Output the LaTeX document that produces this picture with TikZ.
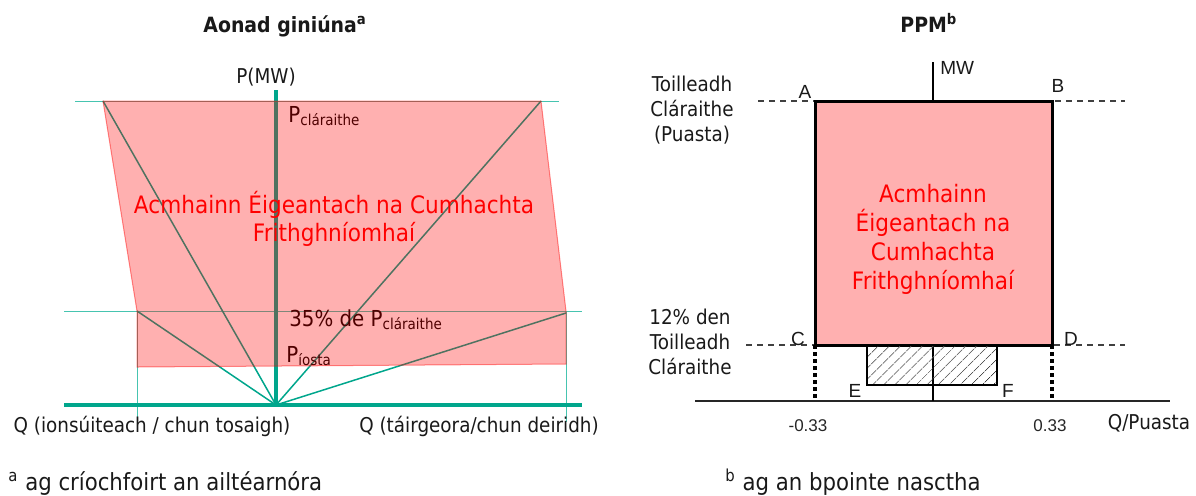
\documentclass[tikz,border=0pt]{standalone}
\usepackage{fontspec}
\setmainfont{DejaVu Sans}[FakeStretch=0.9]
\newfontfamily\arialf{Liberation Sans}
\usetikzlibrary{patterns.meta}
\definecolor{tealx}{RGB}{0,166,140}
\definecolor{tealthin}{RGB}{70,196,176}
\definecolor{pinkx}{RGB}{255,176,176}
\definecolor{redx}{RGB}{255,0,0}
\definecolor{txt}{RGB}{25,25,25}
\newcommand\fsz[2]{\fontsize{#1pt}{#2pt}\selectfont}
\newcommand\Psub[2]{#1\raisebox{-1.5pt}{\fsz{7.5}{9}#2}}
\begin{document}
\begin{tikzpicture}[x=0.5pt,y=-0.5pt,
  every node/.style={inner sep=0pt,text=txt},
  thinteal/.style={draw=tealthin,line width=0.5pt},
  ray/.style={draw=tealx,line width=0.75pt},
  axisteal/.style={draw=tealx,line width=2pt},
  pinkzone/.style={fill=red,fill opacity=0.31,draw=red,draw opacity=0.45,line width=0.5pt},
  lbl/.style={font=\fsz{10.2}{12.5}},
  plbl/.style={font=\fsz{11}{13},text=black,anchor=base west},
  title/.style={font=\bfseries\fsz{10.5}{12},anchor=base west},
  redtxt/.style={text=redx,align=center},
  dashl/.style={draw=black!75,line width=0.6pt,dash pattern=on 3pt off 2.5pt},
  dotl/.style={draw=black,line width=1.6pt,dash pattern=on 2pt off 1.5pt},
  boxline/.style={draw=black,line width=1.5pt},
  letter/.style={font=\arialf\fsz{9.5}{10},text=black!90},
  small/.style={font=\arialf\fsz{8.5}{9},text=black!85}]
\useasboundingbox (0,0) rectangle (1196,495);

% ---------------- left diagram ----------------
\node[title] (t1) at (203,32) {Aonad giniúna\textsuperscript{a}};
\coordinate (O) at (276,405);
\coordinate (TL) at (103,101);
\coordinate (TR) at (541,101);
\coordinate (ML) at (137,311);
\coordinate (MR) at (566,313);
\coordinate (Ytop) at (276,90);
\coordinate (Xl) at (64,405);
\coordinate (Xr) at (582,405);
\coordinate (h1a) at (75,101);  \coordinate (h1b) at (559,101);
\coordinate (h2a) at (64,311);  \coordinate (h2b) at (582,311);
\coordinate (v1a) at (137,311); \coordinate (v1b) at (137,420);
\coordinate (v2a) at (566,311); \coordinate (v2b) at (566,422);

\draw[thinteal] (h1a) -- (h1b);
\draw[thinteal] (h2a) -- (h2b);
\draw[thinteal] (v1a) -- (v1b);
\draw[thinteal] (v2a) -- (v2b);
\draw[ray] (O) -- (TL);
\draw[ray] (O) -- (TR);
\draw[ray] (O) -- (ML);
\draw[ray] (O) -- (MR);
\draw[axisteal] (Ytop) -- (O);
\draw[axisteal] (Xl) -- (Xr);

\node[plbl] (pcl) at (288,122) {\Psub{P}{cláraithe}};
\node[plbl] (p35) at (289,326) {\Psub{35\% de P}{cláraithe}};
\node[plbl] (pio) at (286,362) {\Psub{P}{íosta}};

\fill[pinkzone] (TL) -- (TR) -- (566,311) -- (566,364) -- (137,367) -- (ML) -- cycle;

\node[redtxt,font=\fsz{12}{14}] (rl) at (334,219) {Acmhainn Éigeantach na Cumhachta\\Frithghníomhaí};
\node[lbl] (pmw) at (266,77) {P(MW)};
\node[lbl,anchor=base] (ql) at (152,432) {Q (ionsúiteach / chun tosaigh)};
\node[lbl,anchor=base] (qr) at (479,432) {Q (táirgeora/chun deiridh)};

% ---------------- right diagram ----------------
\node[title] (t2) at (900,32) {PPM\textsuperscript{b}};
\coordinate (A) at (815,101);
\coordinate (B) at (1052,101);
\coordinate (C) at (815,345);
\coordinate (D) at (1052,345);
\coordinate (E) at (867,385);
\coordinate (F) at (997,385);
\coordinate (E0) at (867,345);
\coordinate (mwtop) at (933,62);
\coordinate (mwbot) at (933,401);
\coordinate (qa) at (695,401);
\coordinate (qb) at (1170,401);
\coordinate (C0) at (815,401);
\coordinate (D0) at (1052,401);
\coordinate (d1a) at (758,101); \coordinate (d1b) at (1125,101);
\coordinate (d2a) at (746,345); \coordinate (d2b) at (1125,345);

\draw[dashl] (d1a) -- (d1b);
\draw[dashl] (d2a) -- (d2b);
\draw[draw=black!85,line width=0.8pt] (qa) -- (qb);
\draw[draw=black,line width=0.8pt] (mwtop) -- (mwbot);
\filldraw[boxline,fill=pinkx] (A) rectangle (D);
\draw[boxline,line width=1.2pt,pattern={Lines[angle=45,distance=4pt,line width=0.4pt]},pattern color=black!80] (E0) rectangle (F);
\draw[dotl] (C) -- (C0);
\draw[dotl] (D) -- (D0);

\node[letter] (lA) at (805,92) {A};
\node[letter] (lB) at (1058,86) {B};
\node[letter] (lC) at (798,339) {C};
\node[letter] (lD) at (1071,339) {D};
\node[letter] (lE) at (855,391) {E};
\node[letter] (lF) at (1008,391) {F};
\node[letter,anchor=west] (lMW) at (940,68) {MW};
\node[small] (n1) at (808,426) {-0.33};
\node[small] (n2) at (1050,426) {0.33};
\node[lbl] (qp) at (1149,423) {Q/Puasta};

\node[lbl,align=center] (tc) at (692,110) {Toilleadh\\Cláraithe\\(Puasta)};
\node[lbl,align=center] (t12) at (690,342) {12\% den\\Toilleadh\\Cláraithe};
\node[redtxt,font=\fsz{12}{14.5}] (rr) at (933,239) {Acmhainn\\Éigeantach na\\Cumhachta\\Frithghníomhaí};

% ---------------- footnotes ----------------
\node[lbl,font=\fsz{11.8}{13},anchor=base west] (f1) at (8,490) {\textsuperscript{a} ag críochfoirt an ailtéarnóra};
\node[lbl,font=\fsz{11.8}{13},anchor=base west] (f2) at (725,490) {\textsuperscript{b} ag an bpointe nasctha};
\end{tikzpicture}
\end{document}
